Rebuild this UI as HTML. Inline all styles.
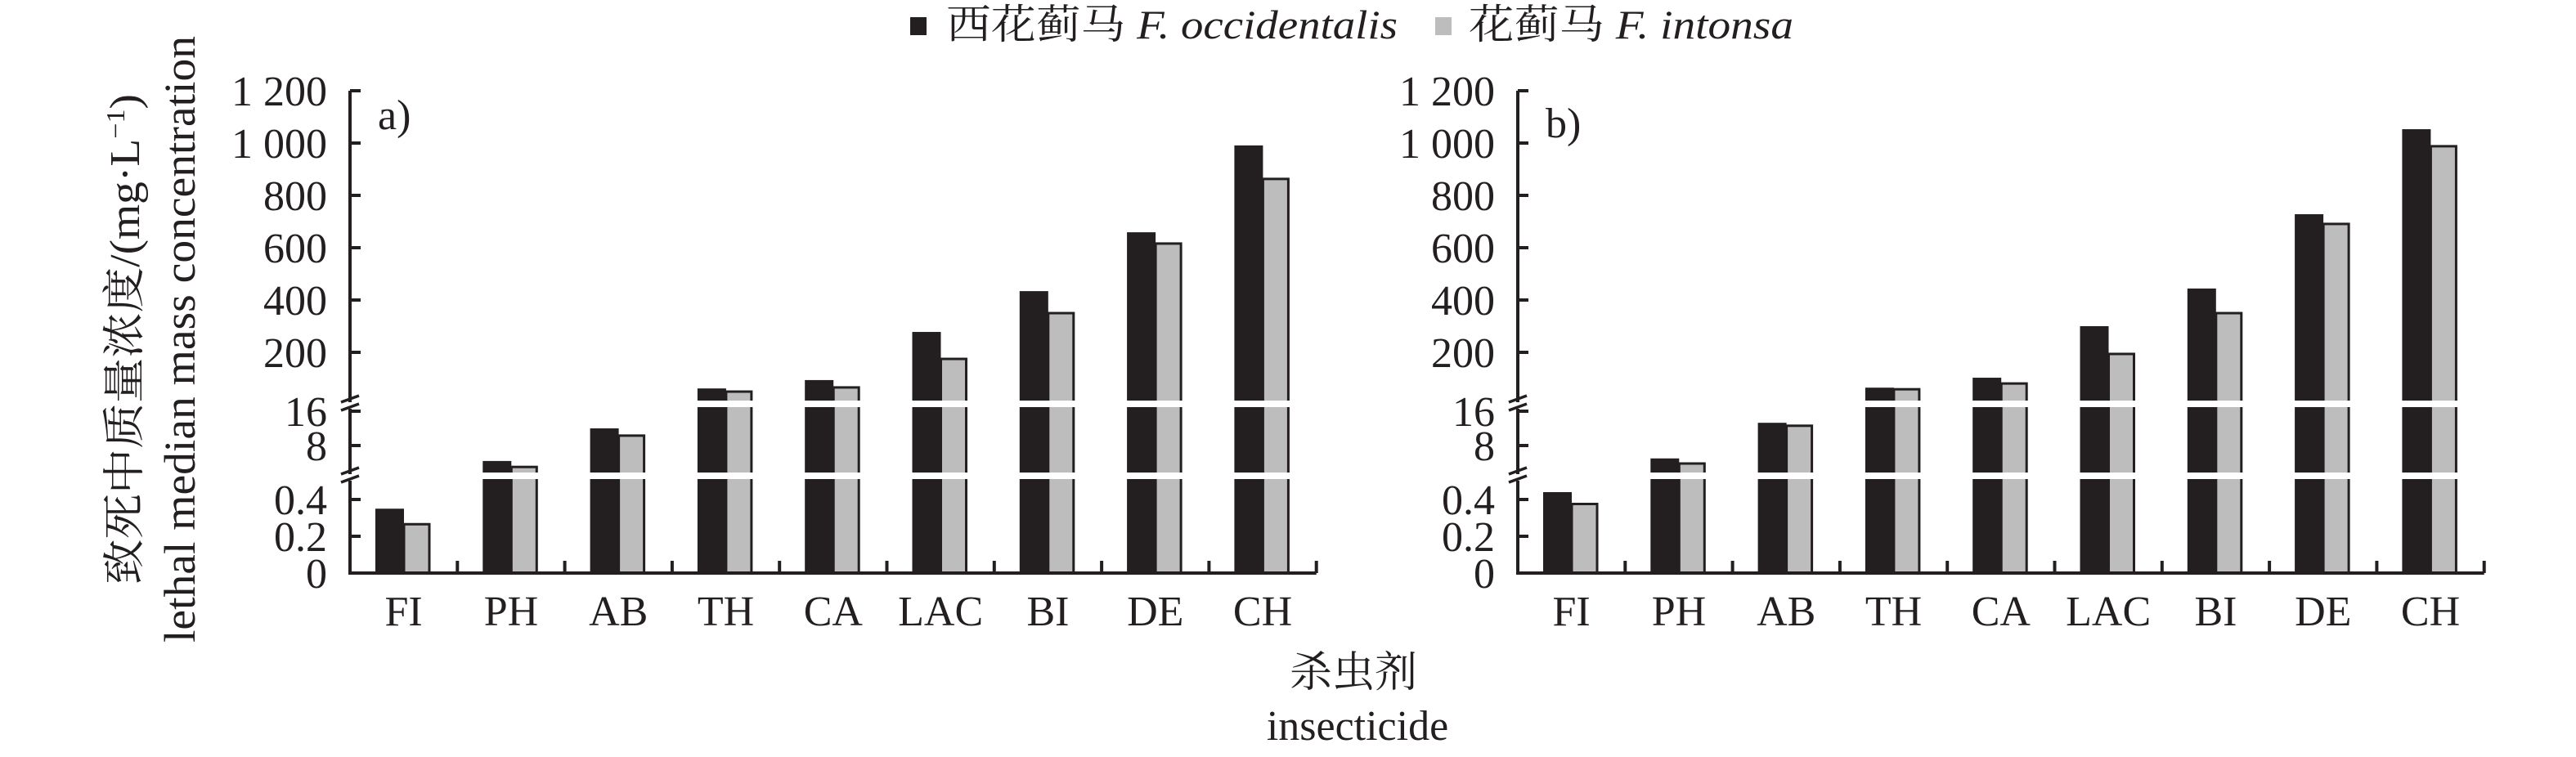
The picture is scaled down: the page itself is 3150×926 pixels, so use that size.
<!DOCTYPE html>
<html><head><meta charset="utf-8">
<style>
html,body{margin:0;padding:0;background:#fff;}
svg{display:block;}
text{font-family:"Liberation Serif","Noto Serif CJK SC","Noto Sans CJK SC",serif;fill:#231f20;}
</style></head>
<body>
<svg id="chart" width="3150" height="926" viewBox="0 0 3150 926" xmlns="http://www.w3.org/2000/svg">
  <g>
    <rect x="1113" y="21" width="20" height="22" fill="#231f20"/>
    <text x="1157" y="47" font-size="50" textLength="552" lengthAdjust="spacingAndGlyphs">西花蓟马 <tspan font-style="italic" font-family="Liberation Serif, serif">F. occidentalis</tspan></text>
    <rect x="1755" y="21" width="20" height="22" fill="#bdbdbd"/>
    <text x="1796" y="47" font-size="50" textLength="397" lengthAdjust="spacingAndGlyphs">花蓟马 <tspan font-style="italic" font-family="Liberation Serif, serif">F. intonsa</tspan></text>
  </g>
  <g>
    <text transform="translate(170,415) rotate(-90)" text-anchor="middle" font-size="52" textLength="600" lengthAdjust="spacingAndGlyphs">致死中质量浓度/(mg·L<tspan dy="-18" font-size="32">−1</tspan><tspan dy="18">)</tspan></text>
    <text transform="translate(238,415) rotate(-90)" text-anchor="middle" font-size="54" textLength="742" lengthAdjust="spacingAndGlyphs">lethal median mass concentration</text>
  </g>
  <text x="1655" y="840" text-anchor="middle" font-size="52">杀虫剂</text>
  <text x="1660" y="905" text-anchor="middle" font-size="52">insecticide</text>
  <g id="panels"></g>
</svg>
<script>
const categories = ["FI","PH","AB","TH","CA","LAC","BI","DE","CH"];
const seriesA_occidentalis = [0.35, 4.4, 12, 62, 94, 278, 434, 659, 991];
const seriesA_intonsa = [0.27, 3.2, 10.5, 53, 69, 178, 353, 619, 866];
const seriesB_occidentalis = [0.44, 5, 13.3, 65, 103, 300, 444, 728, 1053];
const seriesB_intonsa = [0.38, 4, 12.8, 62, 84, 197, 353, 694, 991];
const topTicks = [1200, 1000, 800, 600, 400, 200];
const topTickLabels = ["1 200", "1 000", "800", "600", "400", "200"];
const midTicks = [16, 8];
const lowTicks = [0.4, 0.2, 0];

const NS = "http://www.w3.org/2000/svg";
const BASE = 701;
function yScale(v){
  if (v > 17) return 495 - v*0.32;
  if (v > 0.5) return 587 - v*5.25;
  return BASE - v*225;
}
function mk(tag, attrs, parent){
  const e = document.createElementNS(NS, tag);
  for (const k in attrs) e.setAttribute(k, attrs[k]);
  parent.appendChild(e);
  return e;
}
const root = document.getElementById("panels");
function drawPanel(x0, label, s1, s2, key){
  const step = 131.3;
  const g = mk("g", {}, root);
  
  
  categories.forEach((c, i) => {
    const sx = x0 + i*step;
    const yb = yScale(s1[i]);
    const b = mk("rect", {x: sx+31, y: yb, width: 35, height: BASE-yb, fill: "#231f20"}, g);
    
    
    const yg = yScale(s2[i]);
    const r = mk("rect", {x: sx+66, y: yg+1, width: 31, height: BASE-yg-1, fill: "#bdbdbd", stroke: "#231f20", "stroke-width": 3}, g);
    
    
    const top = Math.min(yb, yg);
    if (top < 490) {
      const w = mk("rect", {x: sx+28, y: 490, width: 73, height: 8, fill: "#fff"}, g);
      
      
    }
    if (top < 578) {
      const w = mk("rect", {x: sx+28, y: 578, width: 73, height: 8, fill: "#fff"}, g);
      
      
    }
    const t = mk("text", {x: sx + step/2, y: 765, "text-anchor": "middle", "font-size": 52}, g);
    t.textContent = c;
    
    
    const tk = mk("line", {x1: sx+step, x2: sx+step, y1: BASE, y2: BASE-15, stroke: "#231f20", "stroke-width": 4}, g);
    
    
  });
  const ya = mk("path", {d: `M${x0} 111 V492 M${x0} 500 V580 M${x0} 588 V${BASE}`, stroke: "#231f20", "stroke-width": 4, fill: "none"}, g);
  
  
  const xa = mk("line", {x1: x0-2, x2: x0 + 9*step, y1: BASE, y2: BASE, stroke: "#231f20", "stroke-width": 4}, g);
  
  
  [494, 582].forEach(yy => {
    const bm = mk("path", {d: `M${x0-11} ${yy-2} L${x0+11} ${yy-10} M${x0-11} ${yy+8} L${x0+11} ${yy}`, stroke: "#231f20", "stroke-width": 3.5, fill: "none"}, g);
    
    
  });
  const allTicks = topTicks.map((v, i) => [v, topTickLabels[i]])
    .concat(midTicks.map(v => [v, String(v)]))
    .concat(lowTicks.map(v => [v, v === 0 ? "0" : v.toFixed(1)]));
  allTicks.forEach(([v, lab]) => {
    const yy = v === 16 ? 503 : yScale(v);
    const tl = mk("line", {x1: x0, x2: x0+13, y1: yy, y2: yy, stroke: "#231f20", "stroke-width": 4}, g);
    
    
    const tt = mk("text", {x: x0-28, y: yy+18, "text-anchor": "end", "font-size": 52}, g);
    tt.textContent = lab;
    
    
  });
  const pl = mk("text", {x: x0+34, y: label === "a)" ? 158 : 168, "font-size": 52}, g);
  pl.textContent = label;
  
  
}
drawPanel(428, "a)", seriesA_occidentalis, seriesA_intonsa, "a");
drawPanel(1856, "b)", seriesB_occidentalis, seriesB_intonsa, "b");
</script>
</body></html>
